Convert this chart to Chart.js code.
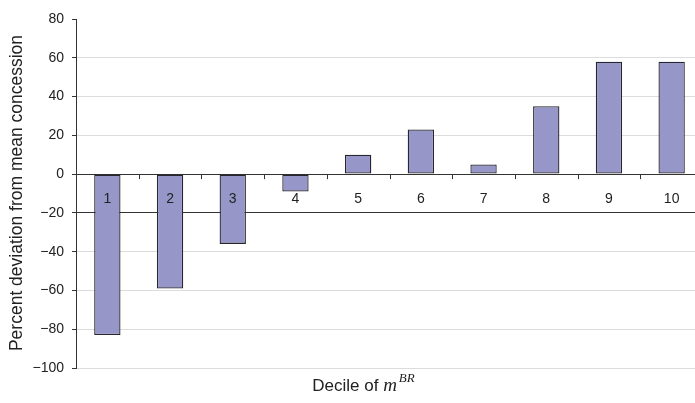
<!DOCTYPE html>
<html>
<head>
<meta charset="utf-8">
<script src="https://cdn.jsdelivr.net/npm/chart.js@4/dist/chart.umd.min.js"></script>
<style>
  html, body { margin: 0; padding: 0; background: #fff; overflow: hidden; }
  #wrap { width: 710px; height: 403px; }
</style>
</head>
<body>
<div id="wrap"><canvas id="c" width="710" height="403"></canvas></div>
<script>
// Deciles of m^BR and the percent deviation from the mean concession
const deciles = ['1', '2', '3', '4', '5', '6', '7', '8', '9', '10'];
const deviation = [-83, -59, -36, -9, 10, 23, 5, 35, 58, 58];
const yTicks = [-100, -80, -60, -40, -20, 0, 20, 40, 60, 80];

const FONT = '"Liberation Sans", Arial, Helvetica, sans-serif';
const SERIF = '"Liberation Serif", "Times New Roman", serif';
const minus = v => String(v).replace('-', '\u2212');

// Category labels, boundary ticks and the two axis titles
const annotate = {
  id: 'annotate',
  afterDraw(chart) {
    const { ctx, scales: { x, y } } = chart;
    const y0 = y.getPixelForValue(0);
    ctx.save();

    // boundary tick marks hanging below the zero line
    ctx.strokeStyle = '#333';
    ctx.lineWidth = 1;
    const half = (x.getPixelForValue(1) - x.getPixelForValue(0)) / 2;
    for (let i = 1; i < deciles.length; i++) {
      const bx = Math.round(x.getPixelForValue(i) - half) + 0.5;
      ctx.beginPath();
      ctx.moveTo(bx, y0);
      ctx.lineTo(bx, y0 + 5);
      ctx.stroke();
    }

    // decile labels sitting between the 0 and -20 lines
    ctx.fillStyle = '#222';
    ctx.font = '14px ' + FONT;
    ctx.textAlign = 'center';
    ctx.textBaseline = 'middle';
    const ly = y.getPixelForValue(-13);
    deciles.forEach((d, i) => ctx.fillText(d, x.getPixelForValue(i), ly));

    // y-axis title
    ctx.save();
    ctx.translate(17, 193);
    ctx.rotate(-Math.PI / 2);
    ctx.font = '17.5px ' + FONT;
    ctx.textAlign = 'center';
    ctx.textBaseline = 'middle';
    ctx.fillText('Percent deviation from mean concession', 0, 0);
    ctx.restore();

    // x-axis title: "Decile of m^BR"
    const base = 391;
    const pre = 'Decile of ';
    ctx.textBaseline = 'alphabetic';
    ctx.textAlign = 'left';
    ctx.font = '17px ' + FONT;
    const wPre = ctx.measureText(pre).width;
    ctx.font = 'italic 19px ' + SERIF;
    const wM = ctx.measureText('m').width;
    ctx.font = 'italic 13px ' + SERIF;
    const wSup = ctx.measureText('BR').width;
    let tx = 363.5 - (wPre + wM + 2 + wSup) / 2;
    ctx.font = '17px ' + FONT;
    ctx.fillText(pre, tx, base);
    tx += wPre;
    ctx.font = 'italic 19px ' + SERIF;
    ctx.fillText('m', tx, base);
    tx += wM + 2;
    ctx.font = 'italic 13px ' + SERIF;
    ctx.fillText('BR', tx, base - 9);

    ctx.restore();
  }
};

new Chart(document.getElementById('c'), {
  type: 'bar',
  data: {
    labels: deciles,
    datasets: [{
      data: deviation,
      backgroundColor: 'rgb(150,150,200)',
      borderColor: '#26262f',
      borderWidth: 1.3,
      borderSkipped: false,
      barPercentage: 0.42,
      categoryPercentage: 1.0
    }]
  },
  options: {
    responsive: false,
    animation: false,
    events: [],
    layout: { padding: { top: 19, bottom: 35, left: 0, right: 7 } },
    plugins: { legend: { display: false }, tooltip: { enabled: false } },
    scales: {
      x: { display: false, offset: true },
      y: {
        min: -100,
        max: 80,
        afterFit: s => { s.width = 76; },
        afterBuildTicks: s => { s.ticks = yTicks.map(v => ({ value: v })); },
        border: { color: '#333', width: 1 },
        grid: {
          color: c => {
            const v = c.tick && c.tick.value;
            if (v === 0 || v === -20) return '#333';
            if (v === 80) return 'rgba(0,0,0,0)';
            return '#dcdcdc';
          },
          tickColor: '#333',
          tickLength: 4,
          drawTicks: true
        },
        ticks: {
          color: '#222',
          padding: 8,
          font: { family: FONT, size: 14 },
          callback: v => minus(v)
        }
      }
    }
  },
  plugins: [annotate]
});
</script>
</body>
</html>
